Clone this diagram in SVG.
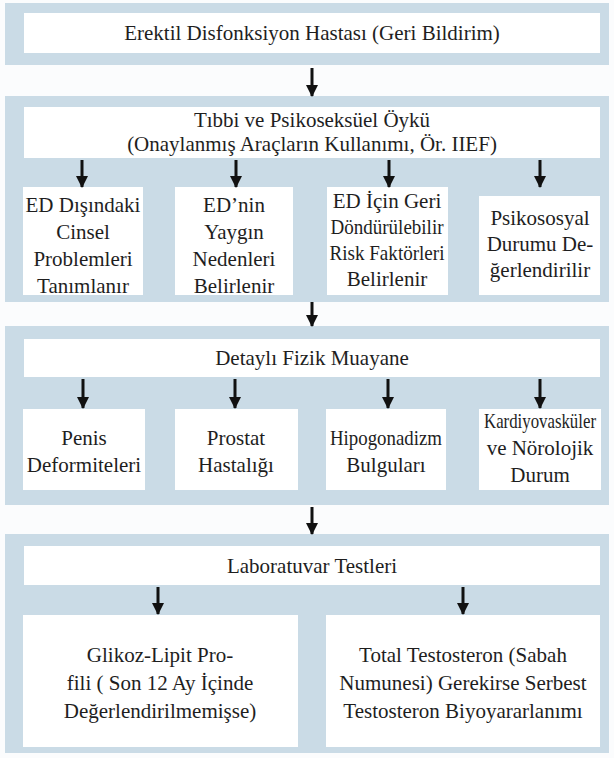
<svg xmlns="http://www.w3.org/2000/svg" width="614" height="758" viewBox="0 0 614 758">
  <defs>
    <marker id="head" markerUnits="userSpaceOnUse" markerWidth="12" markerHeight="12" viewBox="0 0 12 12" refX="11" refY="6" orient="auto">
      <path d="M0,0 L12,6 L0,12 Z" fill="#111"/>
    </marker>
  </defs>

  <rect x="0" y="0" width="614" height="758" fill="#fbfcfd"/>

  <!-- stage panels -->
  <g fill="#cadbe6">
    <g id="panel-1"><rect x="5" y="3" width="604" height="62"/></g>
    <g id="panel-2"><rect x="5" y="96" width="604" height="206"/></g>
    <g id="panel-3"><rect x="5" y="326" width="604" height="179"/></g>
    <g id="panel-4"><rect x="5" y="534" width="604" height="219"/></g>
  </g>

  <!-- nodes: white boxes with centred serif labels -->
  <g text-anchor="middle" fill="#1e1e1e">
    <!-- stage 1 -->
    <g id="patient">
      <rect x="24" y="13" width="576" height="40" fill="#fff"/>
      <text font-family="Liberation Serif" font-size="21" style="font-family: 'Liberation Serif', serif; font-size: 21px" x="312" y="40">Erektil Disfonksiyon Hastası (Geri Bildirim)</text>
    </g>

    <!-- stage 2 -->
    <g id="history">
      <rect x="24" y="107" width="576" height="51" fill="#fff"/>
      <text font-family="Liberation Serif" font-size="21" style="font-family: 'Liberation Serif', serif; font-size: 21px" x="312" y="127">Tıbbi ve Psikoseksüel Öykü</text>
      <text font-family="Liberation Serif" font-size="21" style="font-family: 'Liberation Serif', serif; font-size: 21px" x="312" y="151">(Onaylanmış Araçların Kullanımı, Ör. IIEF)</text>
    </g>
    <g id="sexual-problems">
      <rect x="23" y="187" width="120" height="108" fill="#fff"/>
      <text font-family="Liberation Serif" font-size="21" style="font-family: 'Liberation Serif', serif; font-size: 21px" x="83" y="212">ED Dışındaki</text>
      <text font-family="Liberation Serif" font-size="21" style="font-family: 'Liberation Serif', serif; font-size: 21px" x="83" y="239">Cinsel</text>
      <text font-family="Liberation Serif" font-size="21" style="font-family: 'Liberation Serif', serif; font-size: 21px" x="83" y="266">Problemleri</text>
      <text font-family="Liberation Serif" font-size="21" style="font-family: 'Liberation Serif', serif; font-size: 21px" x="83" y="293">Tanımlanır</text>
    </g>
    <g id="common-causes">
      <rect x="175" y="187" width="118" height="108" fill="#fff"/>
      <text font-family="Liberation Serif" font-size="21" style="font-family: 'Liberation Serif', serif; font-size: 21px" x="234" y="212">ED’nin</text>
      <text font-family="Liberation Serif" font-size="21" style="font-family: 'Liberation Serif', serif; font-size: 21px" x="234" y="239">Yaygın</text>
      <text font-family="Liberation Serif" font-size="21" style="font-family: 'Liberation Serif', serif; font-size: 21px" x="234" y="266">Nedenleri</text>
      <text font-family="Liberation Serif" font-size="21" style="font-family: 'Liberation Serif', serif; font-size: 21px" x="234" y="293">Belirlenir</text>
    </g>
    <g id="risk-factors">
      <rect x="327" y="187" width="121" height="108" fill="#fff"/>
      <text font-family="Liberation Serif" font-size="21" style="font-family: 'Liberation Serif', serif; font-size: 21px" x="387" y="208">ED İçin Geri</text>
      <text font-family="Liberation Serif" font-size="21" style="font-family: 'Liberation Serif', serif; font-size: 21px" x="387" y="234" textLength="113" lengthAdjust="spacingAndGlyphs">Döndürülebilir</text>
      <text font-family="Liberation Serif" font-size="21" style="font-family: 'Liberation Serif', serif; font-size: 21px" x="387" y="260" textLength="115" lengthAdjust="spacingAndGlyphs">Risk Faktörleri</text>
      <text font-family="Liberation Serif" font-size="21" style="font-family: 'Liberation Serif', serif; font-size: 21px" x="387" y="286">Belirlenir</text>
    </g>
    <g id="psychosocial">
      <rect x="479" y="196" width="121" height="99" fill="#fff"/>
      <text font-family="Liberation Serif" font-size="21" style="font-family: 'Liberation Serif', serif; font-size: 21px" x="540" y="225">Psikososyal</text>
      <text font-family="Liberation Serif" font-size="21" style="font-family: 'Liberation Serif', serif; font-size: 21px" x="540" y="251">Durumu De-</text>
      <text font-family="Liberation Serif" font-size="21" style="font-family: 'Liberation Serif', serif; font-size: 21px" x="540" y="277">ğerlendirilir</text>
    </g>

    <!-- stage 3 -->
    <g id="physical-exam">
      <rect x="24" y="339" width="576" height="38" fill="#fff"/>
      <text font-family="Liberation Serif" font-size="21" style="font-family: 'Liberation Serif', serif; font-size: 21px" x="312" y="365">Detaylı Fizik Muayane</text>
    </g>
    <g id="penile">
      <rect x="23" y="409" width="122" height="81" fill="#fff"/>
      <text font-family="Liberation Serif" font-size="21" style="font-family: 'Liberation Serif', serif; font-size: 21px" x="84" y="445">Penis</text>
      <text font-family="Liberation Serif" font-size="21" style="font-family: 'Liberation Serif', serif; font-size: 21px" x="84" y="472">Deformiteleri</text>
    </g>
    <g id="prostate">
      <rect x="175" y="409" width="123" height="81" fill="#fff"/>
      <text font-family="Liberation Serif" font-size="21" style="font-family: 'Liberation Serif', serif; font-size: 21px" x="236" y="445">Prostat</text>
      <text font-family="Liberation Serif" font-size="21" style="font-family: 'Liberation Serif', serif; font-size: 21px" x="236" y="472">Hastalığı</text>
    </g>
    <g id="hypogonadism">
      <rect x="326" y="409" width="120" height="81" fill="#fff"/>
      <text font-family="Liberation Serif" font-size="21" style="font-family: 'Liberation Serif', serif; font-size: 21px" x="386" y="445" textLength="112" lengthAdjust="spacingAndGlyphs">Hipogonadizm</text>
      <text font-family="Liberation Serif" font-size="21" style="font-family: 'Liberation Serif', serif; font-size: 21px" x="386" y="472">Bulguları</text>
    </g>
    <g id="cardio-neuro">
      <rect x="479" y="409" width="122" height="81" fill="#fff"/>
      <text font-family="Liberation Serif" font-size="21" style="font-family: 'Liberation Serif', serif; font-size: 21px" x="540" y="428" textLength="112" lengthAdjust="spacingAndGlyphs">Kardiyovasküler</text>
      <text font-family="Liberation Serif" font-size="21" style="font-family: 'Liberation Serif', serif; font-size: 21px" x="540" y="455">ve Nörolojik</text>
      <text font-family="Liberation Serif" font-size="21" style="font-family: 'Liberation Serif', serif; font-size: 21px" x="540" y="482">Durum</text>
    </g>

    <!-- stage 4 -->
    <g id="lab-tests">
      <rect x="24" y="546" width="576" height="39" fill="#fff"/>
      <text font-family="Liberation Serif" font-size="21" style="font-family: 'Liberation Serif', serif; font-size: 21px" x="312" y="573">Laboratuvar Testleri</text>
    </g>
    <g id="glucose-lipid">
      <rect x="23" y="615" width="275" height="132" fill="#fff"/>
      <text font-family="Liberation Serif" font-size="21" style="font-family: 'Liberation Serif', serif; font-size: 21px" x="160" y="662">Glikoz-Lipit Pro-</text>
      <text font-family="Liberation Serif" font-size="21" style="font-family: 'Liberation Serif', serif; font-size: 21px" x="160" y="690">fili ( Son 12 Ay İçinde</text>
      <text font-family="Liberation Serif" font-size="21" style="font-family: 'Liberation Serif', serif; font-size: 21px" x="160" y="718">Değerlendirilmemişse)</text>
    </g>
    <g id="testosterone">
      <rect x="326" y="615" width="274" height="132" fill="#fff"/>
      <text font-family="Liberation Serif" font-size="21" style="font-family: 'Liberation Serif', serif; font-size: 21px" x="463" y="662">Total Testosteron (Sabah</text>
      <text font-family="Liberation Serif" font-size="21" style="font-family: 'Liberation Serif', serif; font-size: 21px" x="463" y="690">Numunesi) Gerekirse Serbest</text>
      <text font-family="Liberation Serif" font-size="21" style="font-family: 'Liberation Serif', serif; font-size: 21px" x="463" y="718">Testosteron Biyoyararlanımı</text>
    </g>
  </g>

  <!-- connectors -->
  <g id="connectors" stroke="#111" stroke-width="3" fill="none" marker-end="url(#head)">
    <line x1="312" y1="68" x2="312" y2="96"/>
    <line x1="82" y1="160" x2="82" y2="187"/>
    <line x1="236" y1="160" x2="236" y2="187"/>
    <line x1="389" y1="160" x2="389" y2="187"/>
    <line x1="540" y1="160" x2="540" y2="187"/>
    <line x1="312" y1="302" x2="312" y2="326"/>
    <line x1="83" y1="379" x2="83" y2="408"/>
    <line x1="235" y1="379" x2="235" y2="408"/>
    <line x1="388" y1="379" x2="388" y2="408"/>
    <line x1="540" y1="379" x2="540" y2="408"/>
    <line x1="312" y1="507" x2="312" y2="534"/>
    <line x1="158" y1="587" x2="158" y2="614"/>
    <line x1="463" y1="587" x2="463" y2="614"/>
  </g>
</svg>
